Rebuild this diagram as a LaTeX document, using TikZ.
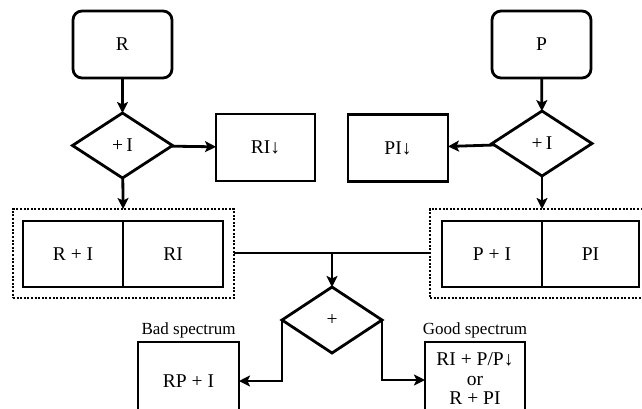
\documentclass[tikz,border=0pt]{standalone}
\usepackage{fontspec}
\setmainfont{Liberation Serif}
\usetikzlibrary{shapes.geometric,arrows.meta}
\begin{document}
\begin{tikzpicture}[x=1pt,y=-1pt,
  every node/.style={inner sep=0pt,outer sep=0pt,font=\fontsize{19.5}{19.5}\selectfont},
  box/.style={draw,line width=2.8pt,minimum width=#1,minimum height=67,align=center},
  box/.default=99,
  rbox/.style={draw,line width=2.8pt,rounded corners=9pt,minimum width=99,minimum height=67},
  dia/.style={draw,line width=2.8pt,diamond,minimum width=100,minimum height=65},
  grp/.style={draw,line width=2.4pt,dash pattern=on 2pt off 1.6pt},
  lab/.style={font=\fontsize{17}{18}\selectfont},
  arr/.style={line width=2.8pt,-{Stealth[length=11pt,width=11pt,inset=2.5pt]}},
  ln/.style={line width=2.8pt}]
\useasboundingbox (0,0) rectangle (642,408);
\clip (0,0) rectangle (642,408);
% left branch
\node[rbox] (R) at (122.5,44.5) {R};
\node[dia] (dL) at (122.5,145.5) {+\,I};
\node[box] (RId) at (265.5,147.5) {RI↓};
% right branch
\node[rbox] (P) at (541.5,44.5) {P};
\node[dia] (dR) at (542,143.5) {+\,I};
\node[box=100] (PId) at (398,148) {PI↓};
% groups
\node[grp,minimum width=221,minimum height=89] (gL) at (123.5,253.5) {};
\node[box=100,minimum height=66] (RpI) at (73,254) {R + I};
\node[box=100,minimum height=66] (RI) at (173,254) {RI};
\node[grp,minimum width=222,minimum height=89] (gR) at (541,253.5) {};
\node[box=100,minimum height=66] (PpI) at (492,254) {P + I};
\node[box=97,minimum height=66] (PI) at (590.5,254) {PI};
% centre diamond
\node[dia,minimum height=66] (dC) at (332,320) {+};
\coordinate (j) at (332,253);
% results
\node[box=101,minimum height=78] (bad) at (188.5,381) {RP + I};
\node[lab,anchor=base] at (188.5,334) {Bad spectrum};
\node[box=100,minimum height=74,align=center] (good) at (475,379) {RI + P/P↓\\or\\R + PI};
\node[lab,anchor=base] at (475,334) {Good spectrum};
% connectors
\draw[arr] (R) -- (dL);
\draw[arr] (dL) -- (RId);
\draw[arr] (dL) -- (gL);
\draw[arr] (P) -- (dR);
\draw[arr] (dR) -- (PId);
\draw[arr] (dR.south) -- (gR.north -| dR.south);
\draw[ln] (gL.east |- j) -- (gR.west |- j);
\draw[arr] (j) -- (dC);
\draw[arr] (dC.west) -- (dC.west |- bad.east) -- (bad.east);
\draw[arr] (dC.east) -- ([yshift=-1pt]dC.east |- good.west) -- ([yshift=-1pt]good.west);
\end{tikzpicture}
\end{document}
